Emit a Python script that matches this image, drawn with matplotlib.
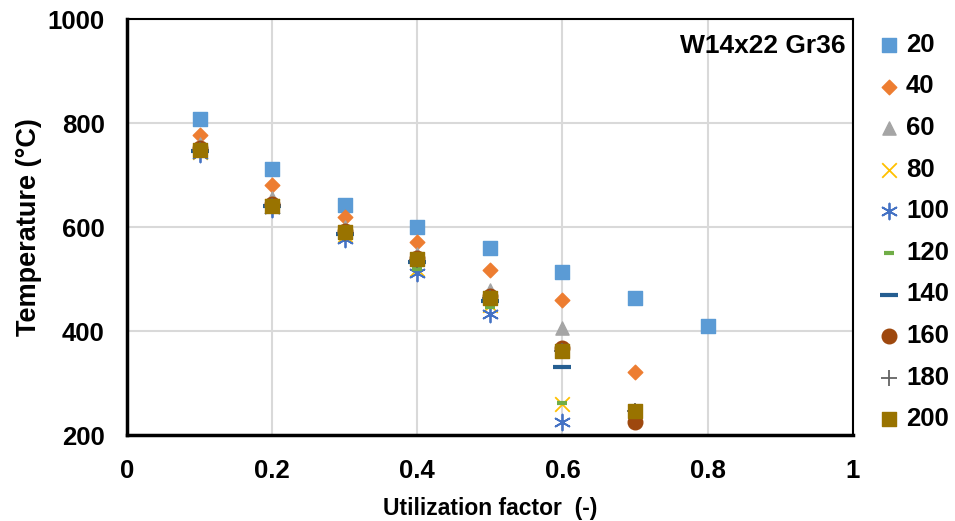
import matplotlib
matplotlib.use("Agg")
import matplotlib.pyplot as plt

plt.rcParams['font.family'] = ['Liberation Sans', 'DejaVu Sans']

# --- data ---
series_names = ['20', '40', '60', '80', '100', '120', '140', '160', '180', '200']
x_20 = [0.1, 0.2, 0.3, 0.4, 0.5, 0.6, 0.7, 0.8]
t_20 = [808, 711, 642, 600, 559, 513, 463, 410]
x_40 = [0.1, 0.2, 0.3, 0.4, 0.5, 0.6, 0.7]
t_40 = [777, 681, 619, 571, 517, 459, 321]
x_60 = [0.1, 0.2, 0.3, 0.4, 0.5, 0.6]
t_60 = [760, 656, 600, 548, 478, 406]
x_80 = [0.1, 0.2, 0.3, 0.4, 0.5, 0.6]
t_80 = [745, 641, 585, 520, 450, 260]
x_100 = [0.1, 0.2, 0.3, 0.4, 0.5, 0.6]
t_100 = [740, 635, 577, 512, 433, 225]
x_120 = [0.1, 0.2, 0.3, 0.4, 0.5, 0.6]
t_120 = [744, 638, 583, 520, 446, 262]
x_140 = [0.1, 0.2, 0.3, 0.4, 0.5, 0.6]
t_140 = [746, 640, 586, 532, 458, 331]
x_160 = [0.1, 0.2, 0.3, 0.4, 0.5, 0.6, 0.7]
t_160 = [752, 645, 592, 540, 467, 368, 225]
x_180 = [0.1, 0.2, 0.3, 0.4, 0.5, 0.6, 0.7]
t_180 = [749, 641, 589, 537, 463, 362, 247]
x_200 = [0.1, 0.2, 0.3, 0.4, 0.5, 0.6, 0.7]
t_200 = [748, 640, 590, 538, 463, 361, 247]

xs = [x_20, x_40, x_60, x_80, x_100, x_120, x_140, x_160, x_180, x_200]
ts = [t_20, t_40, t_60, t_80, t_100, t_120, t_140, t_160, t_180, t_200]

# marker styling per series (Excel-like)
styles = [
    dict(marker='s', color='#5B9BD5', s=110),
    dict(marker='D', color='#ED7D31', s=55),
    dict(marker='^', color='#A5A5A5', s=90),
    dict(marker='x', color='#FFC000', s=110, linewidths=1.3),
    dict(marker=(6, 2, 0), color='#4472C4', s=130, linewidths=1.3),
    dict(marker='_', color='#70AD47', s=60, linewidths=3),
    dict(marker='_', color='#255E91', s=150, linewidths=3),
    dict(marker='o', color='#9E480E', s=110),
    dict(marker='+', color='#636363', s=130, linewidths=1.3),
    dict(marker='s', color='#997300', s=110),
]

fig = plt.figure(figsize=(9.55, 5.21), dpi=100)
ax = fig.add_axes([0.133, 0.165, 0.76, 0.7985])

for name, x, t, st in zip(series_names, xs, ts, styles):
    ax.scatter(x, t, label=name, zorder=3, **st)

ax.set_xlim(0, 1)
ax.set_ylim(200, 1000)
ax.set_xticks([0, 0.2, 0.4, 0.6, 0.8, 1])
ax.set_xticklabels(['0', '0.2', '0.4', '0.6', '0.8', '1'])
ax.set_yticks([200, 400, 600, 800, 1000])
ax.grid(True, color='#D9D9D9', linewidth=1.5, zorder=0)
ax.set_axisbelow(True)

for side in ['top', 'right']:
    ax.spines[side].set_linewidth(1.5)
    ax.spines[side].set_color('black')
for side in ['left', 'bottom']:
    ax.spines[side].set_linewidth(2.5)
    ax.spines[side].set_color('black')

ax.tick_params(length=0, labelsize=18.5)
ax.tick_params(axis='x', pad=17)
ax.tick_params(axis='y', pad=16)
for lbl in ax.get_xticklabels() + ax.get_yticklabels():
    lbl.set_fontweight('bold')

ax.set_xlabel('Utilization factor  (-)', fontsize=16.5, fontweight='bold', labelpad=10)
ax.set_ylabel('Temperature (°C)', fontsize=19.5, fontweight='bold', labelpad=4)

ax.text(0.99, 0.965, 'W14x22 Gr36', transform=ax.transAxes, ha='right', va='top',
        fontsize=19, fontweight='bold')

leg = fig.legend(loc='upper left', bbox_to_anchor=(0.915, 0.937), frameon=False,
                 prop={'size': 18.5, 'weight': 'bold'}, labelspacing=0.685,
                 handletextpad=0.05, borderaxespad=0.0, borderpad=0.0,
                 handlelength=1.2, scatterpoints=1)

fig.savefig('out.png', dpi=100)
